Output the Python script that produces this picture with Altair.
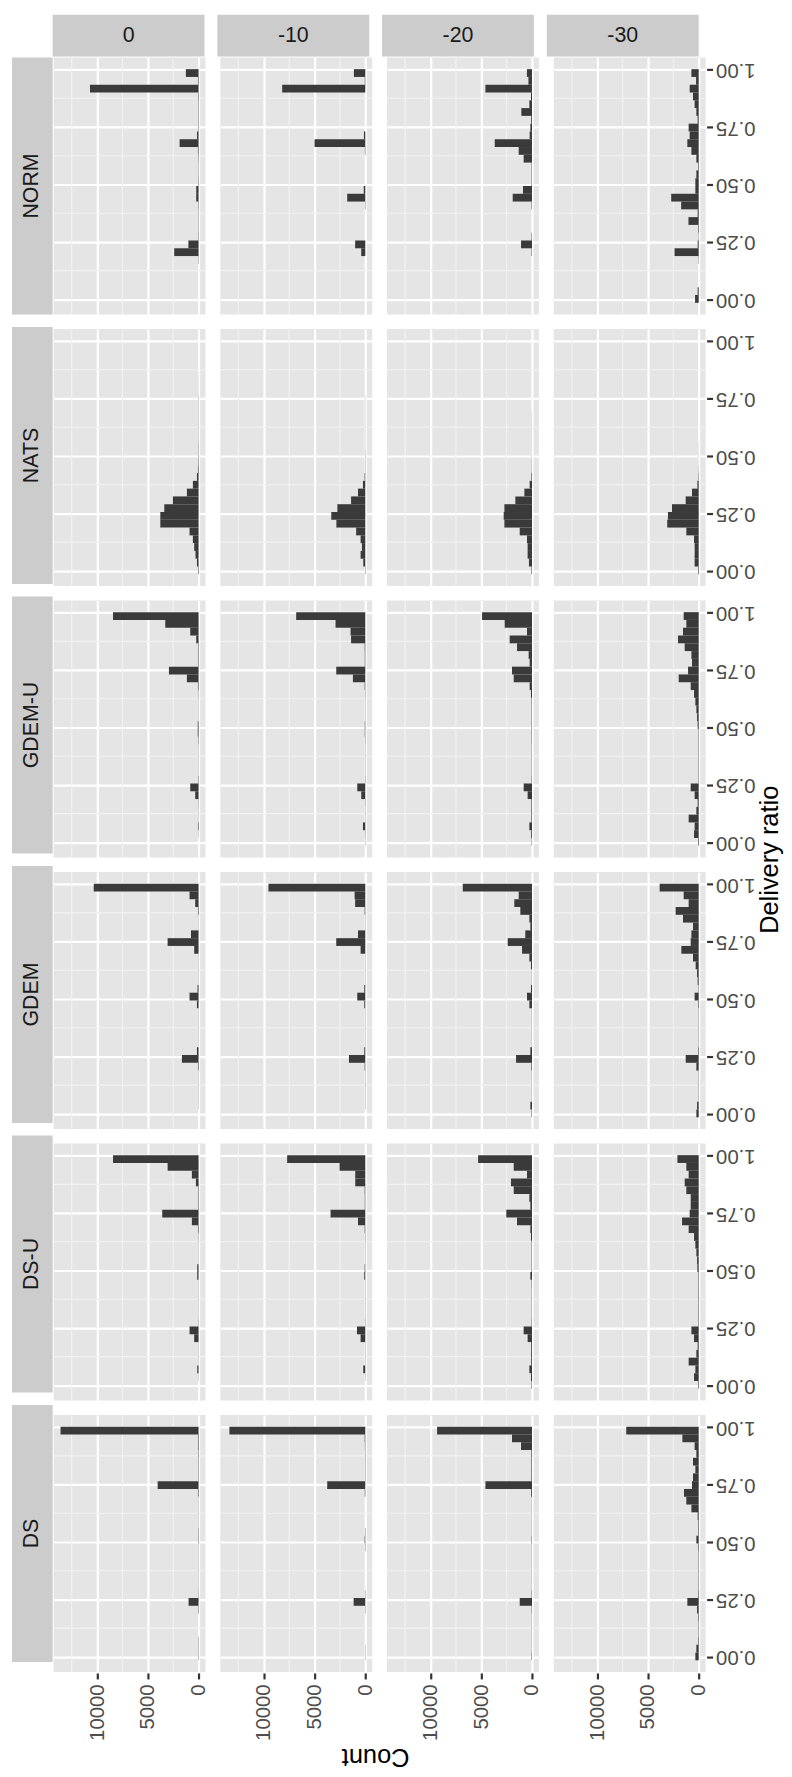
import altair as alt
import pandas as pd

METHODS = ["NORM", "NATS", "GDEM-U", "GDEM", "DS-U", "DS"]
SNRS = ["0", "-10", "-20", "-30"]

BIN_START = -0.015
BIN_WIDTH = 0.0339
Y_TICKS = [0.0, 0.25, 0.5, 0.75, 1.0]
Y_MINOR = [0.125, 0.375, 0.625, 0.875]
X_TICKS = [0, 5000, 10000]
X_MINOR = [2500, 7500, 12500]
X_TITLE = "Count"
Y_TITLE = "Delivery ratio"

# histogram counts, bin 0 = lowest delivery ratio ... bin 29 = highest
NORM_0 = [0, 0, 0, 0, 0, 30, 2400, 1000, 40, 30,
          30, 30, 40, 230, 230, 40, 30, 30, 40, 60,
          1870, 150, 40, 40, 40, 40, 50, 10700, 60, 1250]
NORM_M10 = [0, 0, 0, 0, 0, 0, 400, 1000, 0, 0,
            0, 0, 30, 1780, 150, 0, 0, 0, 0, 40,
            5000, 130, 0, 0, 0, 0, 0, 8190, 50, 1120]
NORM_M20 = [0, 0, 0, 0, 0, 0, 40, 1080, 40, 0,
            0, 0, 40, 1900, 885, 40, 40, 40, 820, 1310,
            3670, 230, 160, 80, 1050, 260, 100, 4590, 350, 500]
NORM_M30 = [360, 100, 0, 0, 0, 30, 2380, 100, 30, 60,
            1010, 100, 1730, 2710, 330, 330, 230, 60, 230, 720,
            1120, 890, 990, 100, 230, 400, 560, 890, 260, 720]

NATS_0 = [50, 160, 300, 430, 560, 890, 3770, 3770, 3380, 2530,
          1150, 560, 160, 60, 40, 30, 30, 20, 20, 20,
          20, 20, 20, 10, 10, 10, 0, 0, 0, 0]
NATS_M10 = [30, 200, 460, 330, 460, 900, 2850, 3350, 2750, 1400,
            720, 230, 60, 20, 20, 20, 10, 10, 10, 10,
            10, 10, 10, 0, 0, 0, 0, 0, 0, 0]
NATS_M20 = [50, 300, 430, 430, 490, 1210, 2720, 2790, 2720, 1640,
            750, 230, 60, 20, 20, 10, 10, 10, 10, 10,
            10, 0, 0, 0, 0, 0, 0, 0, 0, 0]
NATS_M30 = [60, 400, 400, 400, 460, 1220, 3100, 3030, 2630, 1280,
            660, 130, 40, 20, 10, 10, 10, 0, 0, 0,
            0, 0, 0, 0, 0, 0, 0, 0, 0, 0]

GDEMU_0 = [0, 20, 60, 20, 20, 30, 330, 820, 40, 20,
           20, 20, 20, 40, 80, 80, 20, 20, 20, 30,
           60, 1150, 2920, 50, 50, 50, 230, 820, 3280, 8430]
GDEMU_M10 = [20, 30, 230, 20, 20, 30, 400, 790, 30, 20,
             20, 20, 20, 30, 50, 50, 20, 20, 20, 30,
             60, 1220, 2860, 50, 50, 60, 1400, 1450, 2930, 6810]
GDEMU_M20 = [30, 80, 260, 60, 60, 60, 430, 820, 40, 30,
             30, 30, 30, 40, 40, 40, 40, 40, 40, 100,
             230, 1800, 1970, 230, 330, 1480, 2200, 490, 2690, 4920]
GDEMU_M30 = [60, 460, 400, 990, 230, 100, 400, 790, 40, 40,
             40, 40, 40, 40, 40, 100, 160, 230, 330, 460,
             790, 1970, 1050, 660, 720, 1380, 2040, 1550, 1220, 1480]

GDEM_0 = [0, 20, 20, 20, 20, 20, 60, 1640, 160, 20,
          20, 20, 20, 20, 160, 890, 100, 20, 20, 20,
          20, 430, 3050, 750, 20, 20, 60, 330, 890, 10330]
GDEM_M10 = [0, 20, 20, 20, 20, 20, 60, 1610, 100, 20,
            20, 20, 20, 20, 100, 790, 100, 20, 20, 20,
            20, 460, 2860, 720, 20, 20, 60, 1000, 1050, 9540]
GDEM_M20 = [40, 160, 20, 20, 20, 20, 60, 1570, 160, 20,
            20, 20, 20, 20, 260, 490, 100, 20, 20, 100,
            260, 980, 2390, 660, 160, 260, 1150, 1740, 1310, 6820]
GDEM_M30 = [230, 160, 30, 30, 30, 30, 230, 1280, 60, 30,
            30, 30, 30, 30, 60, 400, 40, 100, 160, 300,
            560, 1710, 790, 720, 560, 1550, 2270, 990, 1480, 3850]

DSU_0 = [0, 20, 130, 20, 20, 20, 430, 890, 30, 20,
         20, 20, 20, 20, 130, 130, 20, 20, 20, 30,
         60, 660, 3580, 50, 50, 50, 260, 660, 3050, 8430]
DSU_M10 = [0, 20, 200, 20, 20, 20, 460, 820, 30, 20,
           20, 20, 20, 20, 100, 60, 20, 20, 20, 30,
           60, 720, 3420, 50, 50, 60, 990, 990, 2530, 7700]
DSU_M20 = [40, 100, 260, 80, 80, 80, 430, 820, 40, 30,
           30, 30, 30, 40, 160, 40, 40, 40, 40, 100,
           160, 1480, 2530, 160, 260, 1800, 2070, 490, 1800, 5310]
DSU_M30 = [60, 460, 330, 990, 230, 100, 460, 720, 50, 50,
           50, 50, 50, 50, 50, 130, 160, 230, 330, 460,
           990, 1640, 890, 790, 790, 1220, 1380, 990, 1220, 2100]

DS_0 = [30, 30, 30, 0, 0, 0, 40, 985, 30, 20,
        20, 20, 20, 20, 20, 40, 40, 20, 20, 20,
        20, 60, 4030, 40, 40, 40, 40, 60, 60, 13600]
DS_M10 = [20, 20, 0, 0, 0, 0, 30, 1150, 30, 0,
          0, 0, 0, 0, 30, 60, 30, 0, 0, 0,
          0, 50, 3750, 30, 30, 30, 30, 40, 60, 13390]
DS_M20 = [40, 20, 20, 20, 20, 20, 40, 1210, 40, 20,
          20, 20, 20, 20, 20, 40, 20, 20, 20, 20,
          20, 80, 4590, 60, 60, 60, 60, 1080, 1970, 9350]
DS_M30 = [330, 230, 60, 40, 40, 60, 160, 1120, 60, 40,
          40, 40, 40, 40, 60, 230, 60, 60, 100, 720,
          1220, 1450, 660, 560, 330, 560, 230, 400, 1610, 7140]

COUNTS = {
    "NORM": [NORM_0, NORM_M10, NORM_M20, NORM_M30],
    "NATS": [NATS_0, NATS_M10, NATS_M20, NATS_M30],
    "GDEM-U": [GDEMU_0, GDEMU_M10, GDEMU_M20, GDEMU_M30],
    "GDEM": [GDEM_0, GDEM_M10, GDEM_M20, GDEM_M30],
    "DS-U": [DSU_0, DSU_M10, DSU_M20, DSU_M30],
    "DS": [DS_0, DS_M10, DS_M20, DS_M30],
}

# ---- styling ----
FONT = "Liberation Sans"
PANEL = "#E5E5E5"
STRIP = "#CCCCCC"
MINOR = "#F2F2F2"
BAR = "#3A3A3A"
TICK_TXT = "#4D4D4D"
STRIP_TXT = "#1A1A1A"
TICK_FS = 20.5
STRIP_FS = 21.5
BIG = 25.6
PW, PH = 153, 259
GAP_C, GAP_R = 13, 12.6
STRIP_W = 41
GRID_W = 4 * PW + 3 * GAP_C
GRID_H = 6 * PH + 5 * GAP_R

rows = []
for m in METHODS:
    for snr, counts in zip(SNRS, COUNTS[m]):
        for i, c in enumerate(counts):
            if c > 0:
                rows.append({"method": m, "snr": snr,
                             "lo": BIN_START + i * BIN_WIDTH,
                             "hi": BIN_START + (i + 1) * BIN_WIDTH,
                             "count": c, "zero": 0})
df = pd.DataFrame(rows)

n_bins = len(NORM_0)
y_lo, y_hi = BIN_START, BIN_START + n_bins * BIN_WIDTH
y_pad = 0.05 * (y_hi - y_lo)
yscale = alt.Scale(domain=[y_lo - y_pad, y_hi + y_pad], nice=False, zero=False)
cmax = float(df["count"].max())
xscale = alt.Scale(domain=[-0.05 * cmax, 1.05 * cmax], nice=False, zero=False, reverse=True)

XAXIS = alt.Axis(values=X_TICKS, format="d", grid=True, gridColor="white", gridWidth=2.2,
                 domain=False, tickColor="#333333", tickSize=6, tickWidth=2.2,
                 labelAngle=270, labelAlign="right", labelBaseline="middle",
                 labelFont=FONT, labelFontSize=TICK_FS, labelColor=TICK_TXT,
                 labelPadding=5)
YAXIS = alt.Axis(orient="right", values=Y_TICKS, format=".2f", grid=True,
                 gridColor="white", gridWidth=2.2, domain=False,
                 tickColor="#333333", tickSize=6, tickWidth=2.2,
                 labelAngle=180, labelAlign="right", labelBaseline="middle",
                 labelFont=FONT, labelFontSize=TICK_FS, labelColor=TICK_TXT,
                 labelPadding=3)

base = alt.Chart()
bars = base.mark_rect(color=BAR).encode(
    x=alt.X("count:Q", scale=xscale, title=None, axis=XAXIS),
    x2=alt.X2("zero"),
    y=alt.Y("lo:Q", scale=yscale, title=None, axis=YAXIS),
    y2=alt.Y2("hi"),
)
grid_x = base.transform_aggregate(n="count()").transform_calculate(
    v=str(X_MINOR)).transform_flatten(["v"]).mark_rule(
    color=MINOR, strokeWidth=1.1).encode(
    x=alt.X("v:Q", scale=xscale, title=None, axis=XAXIS))
grid_y = base.transform_aggregate(n="count()").transform_calculate(
    v=str(Y_MINOR)).transform_flatten(["v"]).mark_rule(
    color=MINOR, strokeWidth=1.1).encode(
    y=alt.Y("v:Q", scale=yscale, title=None, axis=YAXIS))

panels = alt.layer(grid_x, grid_y, bars, data=df).properties(
    width=PW, height=PH,
    view=alt.ViewBackground(fill=PANEL, strokeWidth=0),
).facet(
    row=alt.Row("method:N", sort=METHODS, title=None, header=alt.Header(labels=False)),
    column=alt.Column("snr:N", sort=SNRS, title=None, header=alt.Header(labels=False)),
    spacing={"row": GAP_R, "column": GAP_C},
)

# strips
col_base = alt.Chart(pd.DataFrame({"snr": SNRS})).encode(
    x=alt.X("snr:N", sort=SNRS, axis=None,
            scale=alt.Scale(paddingInner=GAP_C / (PW + GAP_C), paddingOuter=0)))
col_strips = alt.layer(
    col_base.mark_rect(color=STRIP),
    col_base.mark_text(font=FONT, fontSize=STRIP_FS, color=STRIP_TXT).encode(text="snr:N"),
).properties(width=GRID_W, height=42,
             view=alt.ViewBackground(fill="white", strokeWidth=0))

row_base = alt.Chart(pd.DataFrame({"method": METHODS})).encode(
    y=alt.Y("method:N", sort=METHODS, axis=None,
            scale=alt.Scale(paddingInner=GAP_R / (PH + GAP_R), paddingOuter=0)))
row_strips = alt.layer(
    row_base.mark_rect(color=STRIP),
    row_base.mark_text(font=FONT, fontSize=STRIP_FS, color=STRIP_TXT, angle=270).encode(text="method:N"),
).properties(width=STRIP_W, height=GRID_H,
             view=alt.ViewBackground(fill="white", strokeWidth=0))

def blank(w, h):
    return alt.Chart(pd.DataFrame({"s": [""]})).mark_text().encode(text="s:N").properties(
        width=w, height=h, view=alt.ViewBackground(fill="white", strokeWidth=0))

y_title = alt.Chart(pd.DataFrame({"t": [Y_TITLE]})).mark_text(
    font=FONT, fontSize=BIG, color="black", angle=270).encode(text="t:N").properties(
    width=24, height=GRID_H, view=alt.ViewBackground(fill="white", strokeWidth=0))
x_title = alt.Chart(pd.DataFrame({"t": [X_TITLE]})).mark_text(
    font=FONT, fontSize=BIG, color="black", angle=180).encode(text="t:N").properties(
    width=GRID_W, height=32, view=alt.ViewBackground(fill="white", strokeWidth=0))

chart = alt.vconcat(
    alt.hconcat(blank(STRIP_W, 42), col_strips, spacing=0),
    alt.hconcat(row_strips, alt.hconcat(panels, y_title, spacing=3), spacing=0),
    alt.hconcat(blank(STRIP_W, 32), x_title, spacing=0),
    spacing=0,
).properties(
    padding={"left": 4, "top": 0, "right": 0, "bottom": 0},
).configure(font=FONT).configure_view(strokeWidth=0)

chart.save("out.html", embed_options={"renderer": "svg", "actions": False})
